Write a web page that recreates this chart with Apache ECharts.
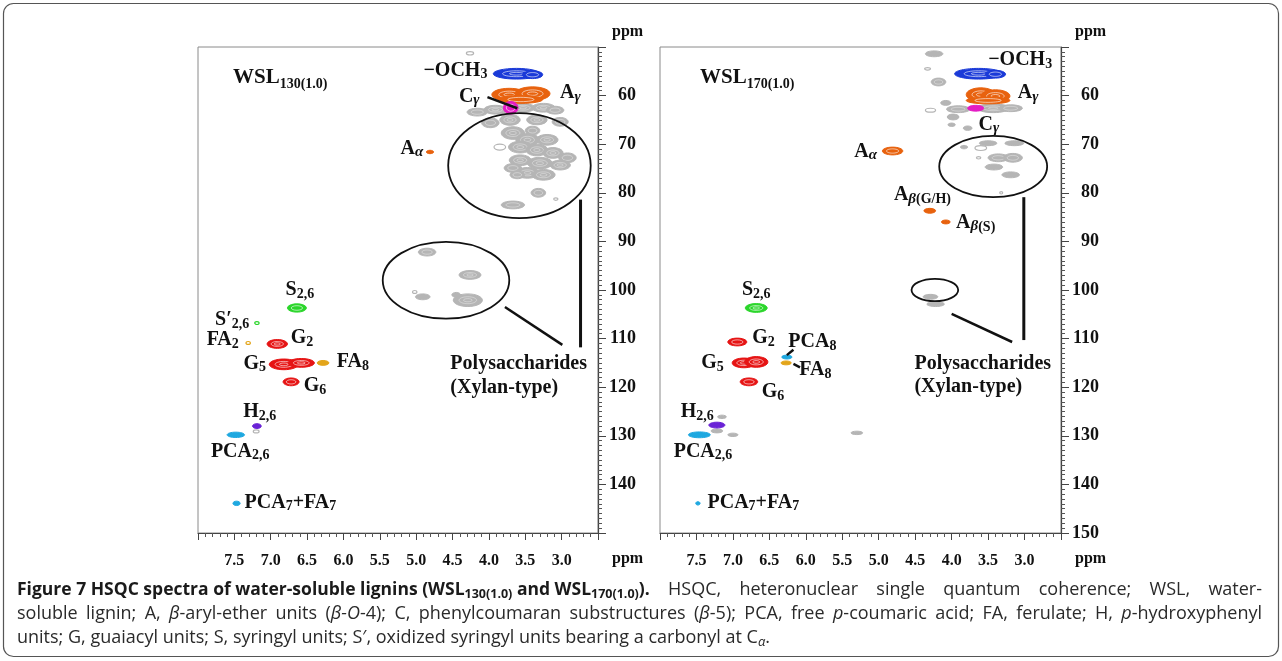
<!DOCTYPE html>
<html>
<head>
<meta charset="utf-8">
<script src="https://cdn.jsdelivr.net/npm/echarts@6/dist/echarts.min.js"></script>
<style>
html, body { margin: 0; padding: 0; background: #fff; }
#chart { width: 1282px; height: 661px; }
</style>
</head>
<body>
<div id="chart"></div>
<script>
// cross peaks: [dH ppm, dC ppm, half width H, half width C]
var wsl130Methoxy = [[3.62, 55.5, 0.32, 1.1], [3.40, 55.7, 0.14, 0.8]];
var wsl130BetaO4 = [[3.72, 59.8, 0.24, 1.3], [3.40, 59.6, 0.24, 1.4], [3.56, 60.8, 0.3, 0.8], [4.81, 71.6, 0.05, 0.35]];
var wsl130Coumaran = [[3.70, 62.5, 0.1, 1.3]];
var wsl130Gray = [
  [4.16, 63.4, 0.14, 0.8], [3.91, 62.9, 0.16, 0.9], [3.53, 62.5, 0.16, 0.9], [3.25, 62.5, 0.16, 0.9], [3.09, 63.0, 0.12, 0.8],
  [3.98, 65.6, 0.12, 1.0], [3.71, 65.0, 0.14, 1.1], [3.34, 65.0, 0.14, 1.0], [3.02, 65.4, 0.11, 0.9],
  [3.67, 67.7, 0.16, 1.3], [3.47, 69.1, 0.16, 1.3], [3.20, 69.1, 0.15, 1.1], [3.40, 67.2, 0.1, 0.9],
  [3.57, 70.6, 0.16, 1.2], [3.34, 71.2, 0.15, 1.2], [3.12, 71.8, 0.14, 1.1], [2.92, 72.8, 0.12, 1.0],
  [3.57, 73.3, 0.15, 1.1], [3.30, 73.9, 0.17, 1.2], [3.02, 74.3, 0.14, 1.0],
  [3.67, 74.9, 0.12, 0.9], [3.47, 75.9, 0.16, 1.1], [3.25, 76.3, 0.16, 1.1], [3.61, 76.3, 0.1, 0.8],
  [3.32, 80.0, 0.1, 0.9], [3.67, 82.5, 0.16, 0.8],
  [4.85, 92.2, 0.12, 0.8], [4.26, 96.9, 0.15, 0.9], [4.91, 101.4, 0.1, 0.6], [4.29, 102.1, 0.2, 1.3], [4.45, 101.0, 0.06, 0.5]
];
var wsl130GrayWeak = [[4.26, 51.3, 0.05, 0.35], [3.85, 70.6, 0.08, 0.6], [3.08, 81.3, 0.03, 0.25], [5.02, 100.4, 0.03, 0.3], [7.20, 129.1, 0.04, 0.3]];
var wsl130Syringyl = [[6.64, 103.7, 0.13, 0.85]];
var wsl130SyringylWeak = [[7.19, 106.8, 0.03, 0.3]];
var wsl130Guaiacyl = [[6.91, 111.1, 0.14, 0.9], [6.82, 115.3, 0.2, 1.1], [6.58, 115.0, 0.18, 0.9], [6.72, 118.9, 0.11, 0.8]];
var wsl130Ferulate = [[6.28, 115.0, 0.08, 0.5]];
var wsl130FerulateWeak = [[7.31, 110.9, 0.03, 0.3]];
var wsl130Hydroxyphenyl = [[7.19, 128.0, 0.06, 0.5]];
var wsl130Coumaric = [[7.48, 129.8, 0.12, 0.55], [7.47, 143.9, 0.05, 0.45]];

var wsl170Methoxy = [[3.63, 55.5, 0.33, 1.1], [3.40, 55.6, 0.14, 0.8]];
var wsl170BetaO4 = [[3.60, 59.8, 0.2, 1.4], [3.40, 60.1, 0.2, 1.3], [3.50, 61.0, 0.3, 0.7], [4.81, 71.4, 0.14, 0.8], [4.30, 83.7, 0.08, 0.5], [4.08, 86.0, 0.06, 0.4]];
var wsl170Coumaran = [[3.67, 62.6, 0.11, 0.6]];
var wsl170Gray = [
  [4.24, 51.4, 0.12, 0.6], [4.18, 57.2, 0.1, 0.8], [4.08, 61.5, 0.07, 0.5],
  [3.91, 62.8, 0.16, 0.7], [3.43, 62.6, 0.22, 0.9], [3.19, 62.6, 0.16, 0.7], [3.98, 64.4, 0.08, 0.6], [4.00, 66.0, 0.05, 0.35], [3.78, 66.7, 0.06, 0.45],
  [3.83, 70.6, 0.05, 0.35], [3.50, 69.8, 0.12, 0.5], [3.14, 69.8, 0.13, 0.5], [3.36, 72.8, 0.14, 0.8], [3.16, 72.8, 0.13, 0.9], [3.42, 74.7, 0.12, 0.6], [3.19, 76.3, 0.12, 0.6],
  [4.29, 101.4, 0.1, 0.5], [4.22, 102.9, 0.12, 0.5],
  [7.15, 126.1, 0.06, 0.35], [7.22, 129.0, 0.08, 0.4], [7.00, 129.8, 0.07, 0.35], [5.30, 129.4, 0.08, 0.35]
];
var wsl170GrayWeak = [[4.33, 54.5, 0.04, 0.25], [4.29, 63.0, 0.07, 0.4], [3.60, 70.8, 0.08, 0.5], [3.63, 72.8, 0.03, 0.2], [3.32, 80.0, 0.02, 0.2]];
var wsl170Syringyl = [[6.68, 103.7, 0.15, 0.9]];
var wsl170Guaiacyl = [[6.94, 110.7, 0.13, 0.8], [6.85, 115.0, 0.16, 1.0], [6.68, 114.8, 0.16, 1.1], [6.78, 118.9, 0.12, 0.8]];
var wsl170Ferulate = [[6.27, 115.0, 0.07, 0.4]];
var wsl170Hydroxyphenyl = [[7.22, 127.8, 0.11, 0.6]];
var wsl170Coumaric = [[7.46, 129.8, 0.15, 0.6], [6.26, 113.8, 0.07, 0.4], [7.48, 143.9, 0.03, 0.35]];

// circled regions: [centre H, centre C, radius H, radius C]
var wsl130Rings = [[3.58, 74.4, 0.98, 10.8], [4.59, 98.0, 0.87, 7.9]];
var wsl170Rings = [[3.43, 74.6, 0.74, 6.3], [4.23, 100.0, 0.32, 2.3]];
// leader lines: [H1, C1, H2, C2]
var wsl130Leaders = [[2.74, 81.4, 2.74, 111.8], [3.78, 103.5, 2.99, 111.3], [4.02, 60.3, 3.61, 62.6]];
var wsl170Leaders = [[3.01, 80.9, 3.01, 110.3], [4.00, 104.9, 3.17, 110.7], [6.26, 113.4, 6.17, 112.3], [6.17, 115.2, 6.08, 115.9]];

// peak labels: [H, C, text]
var wsl130Labels = [
  [4.46, 54.9, '{m|−OCH}{s|3}'], [2.88, 59.5, '{m|A}{g|γ}'], [4.27, 60.3, '{m|C}{g|γ}'], [5.06, 71.0, '{m|A}{g|α}'],
  [6.60, 100.0, '{m|S}{s|2,6}'], [7.53, 106.2, '{m|S′}{s|2,6}'], [7.66, 110.3, '{m|FA}{s|2}'], [6.57, 109.9, '{m|G}{s|2}'],
  [7.22, 115.2, '{m|G}{s|5}'], [5.87, 114.8, '{m|FA}{s|8}'], [6.39, 119.8, '{m|G}{s|6}'], [7.15, 125.1, '{m|H}{s|2,6}'],
  [7.42, 133.3, '{m|PCA}{s|2,6}'], [6.73, 143.8, '{m|PCA}{s|7}{m|+FA}{s|7}']
];
var wsl170Labels = [
  [3.06, 52.7, '{m|−OCH}{s|3}'], [2.95, 59.5, '{m|A}{g|γ}'], [3.49, 66.0, '{m|C}{g|γ}'], [5.18, 71.6, '{m|A}{g|α}'],
  [4.40, 80.5, '{m|A}{g|β}{s|(G/H)}'], [3.67, 86.2, '{m|A}{g|β}{s|(S)}'],
  [6.68, 100.0, '{m|S}{s|2,6}'], [6.58, 109.9, '{m|G}{s|2}'], [5.91, 110.7, '{m|PCA}{s|8}'], [5.87, 116.5, '{m|FA}{s|8}'],
  [7.28, 115.0, '{m|G}{s|5}'], [6.45, 121.0, '{m|G}{s|6}'], [7.49, 125.1, '{m|H}{s|2,6}'],
  [7.41, 133.3, '{m|PCA}{s|2,6}'], [6.72, 143.8, '{m|PCA}{s|7}{m|+FA}{s|7}']
];
var wsl130Notes = [[4.53, 115.2, 'Polysaccharides'], [4.53, 120.1, '(Xylan-type)']];
var wsl170Notes = [[4.51, 115.1, 'Polysaccharides'], [4.51, 120.0, '(Xylan-type)']];

// caption, one entry per printed line: [style, text]
var captionLines = [
  [['b', 'Figure 7 HSQC spectra of water-soluble lignins (WSL'], ['bs', '130(1.0)'], ['b', ' and WSL'], ['bs', '170(1.0)'], ['b', ').'],
   ['r', ' HSQC, heteronuclear single quantum coherence; WSL, water-']],
  [['r', 'soluble lignin; A, '], ['i', 'β'], ['r', '-aryl-ether units ('], ['i', 'β-O'], ['r', '-4); C, phenylcoumaran substructures ('],
   ['i', 'β'], ['r', '-5); PCA, free '], ['i', 'p'], ['r', '-coumaric acid; FA, ferulate; H, '], ['i', 'p'], ['r', '-hydroxyphenyl']],
  [['r', 'units; G, guaiacyl units; S, syringyl units; S′, oxidized syringyl units bearing a carbonyl at C'], ['is', 'α'], ['r', '.']]
];
var captionJustify = [true, true, false];

var SERIF = '"Liberation Serif", "Times New Roman", serif';
var SANS = '"Open Sans", sans-serif';
var GRAY = '#b5b5b5';

var labelRich = {
  m: { fontFamily: SERIF, fontWeight: 'bold', fontSize: 20, lineHeight: 22, fill: '#111' },
  s: { fontFamily: SERIF, fontWeight: 'bold', fontSize: 14, lineHeight: 10, verticalAlign: 'bottom', fill: '#111' },
  g: { fontFamily: SERIF, fontStyle: 'italic', fontWeight: 'bold', fontSize: 15, lineHeight: 10, verticalAlign: 'bottom', fill: '#111' }
};

function blobSeries(panel, data, color, hollow) {
  var ringStroke = color === GRAY ? 'rgba(255,255,255,0.45)' : 'rgba(255,255,255,0.75)';
  return {
    type: 'custom', xAxisIndex: panel, yAxisIndex: panel, silent: true, z: color === GRAY ? 2 : 3,
    data: data,
    renderItem: function (params, api) {
      var c = api.coord([api.value(0), api.value(1)]);
      var e = api.coord([api.value(0) - api.value(2), api.value(1) + api.value(3)]);
      var rx = Math.max(1.5, Math.abs(e[0] - c[0]));
      var ry = Math.max(1.2, Math.abs(e[1] - c[1]));
      if (hollow) {
        return { type: 'ellipse', shape: { cx: c[0], cy: c[1], rx: rx, ry: ry }, style: { fill: 'none', stroke: color, lineWidth: 1.2 } };
      }
      var kids = [{ type: 'ellipse', shape: { cx: c[0], cy: c[1], rx: rx, ry: ry }, style: { fill: color, stroke: color, lineWidth: 1 } }];
      if (rx > 5 && ry > 3) {
        kids.push({ type: 'ellipse', shape: { cx: c[0], cy: c[1], rx: rx * 0.6, ry: ry * 0.55 }, style: { fill: 'none', stroke: ringStroke, lineWidth: 0.8 } });
      }
      if (rx > 10 && ry > 4) {
        kids.push({ type: 'ellipse', shape: { cx: c[0], cy: c[1], rx: rx * 0.3, ry: ry * 0.25 }, style: { fill: 'none', stroke: ringStroke, lineWidth: 0.8 } });
      }
      return { type: 'group', children: kids };
    }
  };
}

function ringSeries(panel, data) {
  return {
    type: 'custom', xAxisIndex: panel, yAxisIndex: panel, silent: true, z: 4, data: data,
    renderItem: function (params, api) {
      var c = api.coord([api.value(0), api.value(1)]);
      var e = api.coord([api.value(0) - api.value(2), api.value(1) + api.value(3)]);
      return { type: 'ellipse', shape: { cx: c[0], cy: c[1], rx: Math.abs(e[0] - c[0]), ry: Math.abs(e[1] - c[1]) },
        style: { fill: 'none', stroke: '#111', lineWidth: 1.8 } };
    }
  };
}

function leaderSeries(panel, data) {
  return {
    type: 'custom', xAxisIndex: panel, yAxisIndex: panel, silent: true, z: 4, data: data,
    renderItem: function (params, api) {
      var a = api.coord([api.value(0), api.value(1)]);
      var b = api.coord([api.value(2), api.value(3)]);
      return { type: 'line', shape: { x1: a[0], y1: a[1], x2: b[0], y2: b[1] },
        style: { stroke: '#111', lineWidth: a[0] === b[0] ? 3 : 2.5 } };
    }
  };
}

function labelSeries(panel, data, align) {
  return {
    type: 'custom', xAxisIndex: panel, yAxisIndex: panel, silent: true, z: 5, data: data,
    renderItem: function (params, api) {
      var p = api.coord([data[params.dataIndex][0], data[params.dataIndex][1]]);
      var txt = data[params.dataIndex][2];
      if (align === 'left') txt = '{m|' + txt + '}';
      return { type: 'text', x: p[0], y: p[1],
        style: { text: txt, rich: labelRich, align: align, verticalAlign: 'middle', fill: '#111',
          fontFamily: SERIF, fontWeight: 'bold', fontSize: 20 } };
    }
  };
}

function xAxisFor(i) {
  return {
    type: 'value', gridIndex: i, min: 2.5, max: 8, interval: 0.5, inverse: true,
    axisLine: { show: true, onZero: false, lineStyle: { color: '#444', width: 1.2 } },
    axisTick: { show: true, length: 7, lineStyle: { color: '#444' } },
    minorTick: { show: true, splitNumber: 5, length: 4, lineStyle: { color: '#555' } },
    splitLine: { show: false },
    axisLabel: { margin: 20, color: '#111', fontFamily: SERIF, fontWeight: 'bold', fontSize: 16,
      formatter: function (v) { return (v === 8 || v === 2.5) ? '' : v.toFixed(1); } },
    name: 'ppm', nameLocation: 'start', nameGap: 14,
    nameTextStyle: { color: '#111', fontFamily: SERIF, fontWeight: 'bold', fontSize: 16, verticalAlign: 'top', padding: [18, 0, 0, 0] }
  };
}

function yAxisFor(i) {
  return {
    type: 'value', gridIndex: i, position: 'right', min: 50, max: 150, interval: 10, inverse: true,
    axisLine: { show: true, onZero: false, lineStyle: { color: '#444', width: 1.2 } },
    axisTick: { show: true, length: 8, lineStyle: { color: '#444' } },
    minorTick: { show: true, splitNumber: 10, length: 4, lineStyle: { color: '#555' } },
    splitLine: { show: false },
    axisLabel: { margin: 38, align: 'right', color: '#111', fontFamily: SERIF, fontWeight: 'bold', fontSize: 18,
      formatter: function (v) { return (v === 50 || (i === 0 && v === 150)) ? '' : String(v); } },
    name: 'ppm', nameLocation: 'start', nameGap: 7,
    nameTextStyle: { color: '#111', fontFamily: SERIF, fontWeight: 'bold', fontSize: 16, align: 'left', verticalAlign: 'bottom', padding: [0, 0, 0, 14] }
  };
}

var titleRich = {
  b: { fontFamily: SERIF, fontWeight: 'bold', fontSize: 21, lineHeight: 26, color: '#111' },
  s: { fontFamily: SERIF, fontWeight: 'bold', fontSize: 14, lineHeight: 12, verticalAlign: 'bottom', color: '#111' }
};

// caption styles; plain-text spaces are widened so the first two lines are justified like the print
var capFonts = {
  b: { fontFamily: SANS, fontWeight: 'bold', fontSize: 17.5, lineHeight: 22, fill: '#1a1a1a' },
  bs: { fontFamily: SANS, fontWeight: 'bold', fontSize: 12.5, lineHeight: 10, verticalAlign: 'bottom', fill: '#1a1a1a' },
  r: { fontFamily: SANS, fontSize: 18, lineHeight: 22, fill: '#2a2a2a' },
  i: { fontFamily: SANS, fontStyle: 'italic', fontSize: 18, lineHeight: 22, fill: '#2a2a2a' },
  is: { fontFamily: SANS, fontStyle: 'italic', fontSize: 13, lineHeight: 10, verticalAlign: 'bottom', fill: '#2a2a2a' }
};
var measureCtx = document.createElement('canvas').getContext('2d');
function cssFont(st) {
  return (st.fontStyle || 'normal') + ' ' + (st.fontWeight || 'normal') + ' ' + st.fontSize + 'px ' + st.fontFamily;
}
function stretchable(style) { return style === 'r' || style === 'i'; }
function captionText(segs, justify, targetWidth) {
  var natural = 0, spaces = 0;
  segs.forEach(function (sg) {
    measureCtx.font = cssFont(capFonts[sg[0]]);
    natural += measureCtx.measureText(sg[1]).width;
    if (stretchable(sg[0])) spaces += sg[1].split(' ').length - 1;
  });
  measureCtx.font = cssFont(capFonts.r);
  var spaceW = measureCtx.measureText(' ').width;
  var extra = justify && spaces ? Math.max(0, (targetWidth - natural) / spaces) : 0;
  var rich = Object.assign({ sp: { fontFamily: SANS, fontSize: 18, lineHeight: 22, width: spaceW + extra } }, capFonts);
  var text = segs.map(function (sg) {
    if (!stretchable(sg[0])) return '{' + sg[0] + '|' + sg[1] + '}';
    return sg[1].split(' ').map(function (w) { return w ? '{' + sg[0] + '|' + w + '}' : ''; }).join('{sp| }');
  }).join('');
  return { text: text, rich: rich };
}

var captionGraphics = captionLines.map(function (segs, k) {
  var t = captionText(segs, captionJustify[k], 1245);
  return { type: 'text', x: 17, y: 590 + k * 24, silent: true, style: { text: t.text, rich: t.rich, verticalAlign: 'middle' } };
});

var chart = echarts.init(document.getElementById('chart'));
var option = {
  animation: false,
  backgroundColor: '#fff',
  title: [
    { text: '{b|WSL}{s|130(1.0)}', left: 233, top: 65, padding: 0, textStyle: { rich: titleRich } },
    { text: '{b|WSL}{s|170(1.0)}', left: 700, top: 65, padding: 0, textStyle: { rich: titleRich } }
  ],
  grid: [
    { left: 198, top: 47, width: 400, height: 486, show: true, borderColor: '#8a8a8a', borderWidth: 1 },
    { left: 660, top: 47, width: 401, height: 486, show: true, borderColor: '#8a8a8a', borderWidth: 1 }
  ],
  xAxis: [xAxisFor(0), xAxisFor(1)],
  yAxis: [yAxisFor(0), yAxisFor(1)],
  graphic: [
    { type: 'rect', shape: { x: 3.5, y: 3.5, width: 1275, height: 653, r: 10 }, style: { fill: 'none', stroke: '#555', lineWidth: 1.2 }, silent: true }
  ].concat(captionGraphics),
  series: [
    blobSeries(0, wsl130Gray, GRAY), blobSeries(0, wsl130GrayWeak, GRAY, true),
    blobSeries(0, wsl130Methoxy, '#1a3ad8'), blobSeries(0, wsl130BetaO4, '#e8620e'), blobSeries(0, wsl130Coumaran, '#e41cc4'),
    blobSeries(0, wsl130Syringyl, '#2bd62b'), blobSeries(0, wsl130SyringylWeak, '#2bd62b', true),
    blobSeries(0, wsl130Guaiacyl, '#e61414'), blobSeries(0, wsl130Ferulate, '#e3a51a'), blobSeries(0, wsl130FerulateWeak, '#e3a51a', true),
    blobSeries(0, wsl130Hydroxyphenyl, '#6a22d6'), blobSeries(0, wsl130Coumaric, '#1ea8e0'),
    ringSeries(0, wsl130Rings), leaderSeries(0, wsl130Leaders),
    labelSeries(0, wsl130Labels, 'center'), labelSeries(0, wsl130Notes, 'left'),

    blobSeries(1, wsl170Gray, GRAY), blobSeries(1, wsl170GrayWeak, GRAY, true),
    blobSeries(1, wsl170Methoxy, '#1a3ad8'), blobSeries(1, wsl170BetaO4, '#e8620e'), blobSeries(1, wsl170Coumaran, '#e41cc4'),
    blobSeries(1, wsl170Syringyl, '#2bd62b'), blobSeries(1, wsl170Guaiacyl, '#e61414'), blobSeries(1, wsl170Ferulate, '#e3a51a'),
    blobSeries(1, wsl170Hydroxyphenyl, '#6a22d6'), blobSeries(1, wsl170Coumaric, '#1ea8e0'),
    ringSeries(1, wsl170Rings), leaderSeries(1, wsl170Leaders),
    labelSeries(1, wsl170Labels, 'center'), labelSeries(1, wsl170Notes, 'left')
  ]
};
chart.setOption(option);
</script>
</body>
</html>
